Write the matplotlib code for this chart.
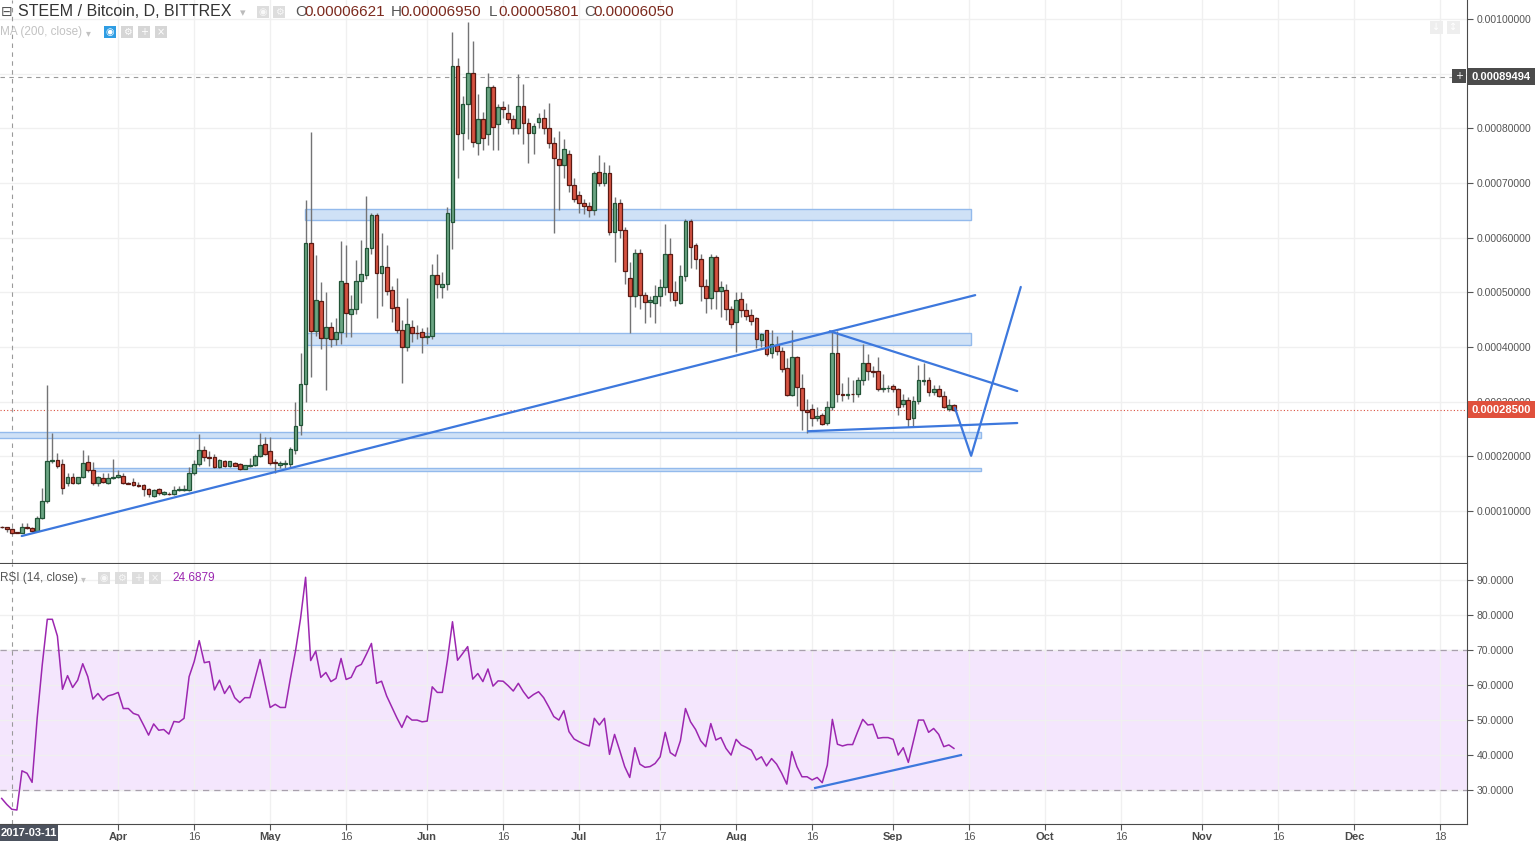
import matplotlib
matplotlib.use('Agg')
import matplotlib.pyplot as plt
import matplotlib.dates as mdates
from matplotlib.patches import Rectangle
import numpy as np

plt.rcParams['font.family'] = ['Liberation Sans', 'DejaVu Sans']

W, H = 1535, 841

# daily candles from 2017-03-09, prices in units of 1e-5 BTC
start = np.datetime64('2017-03-09')
opens = [7.1, 7.0, 6.62, 6.1, 6.0, 7.0, 6.9, 6.4, 8.7, 11.8,
         19.2, 19.3, 18.55, 15.1, 16.2, 15.1, 16.2, 18.9, 17.45, 15.1,
         16.0, 15.2, 16.0, 16.3, 16.35, 15.1, 15.25, 14.8, 14.7, 14.0,
         12.75, 14.0, 13.1, 13.2, 13.1, 13.8, 13.9, 13.9, 16.9, 18.55,
         21.1, 19.9, 19.9, 18.05, 19.1, 18.3, 18.7, 18.55, 17.75, 18.3,
         18.4, 20.07, 22.3, 20.9, 18.9, 18.5, 18.6, 18.55, 21.1, 25.7,
         33.2, 58.97, 43.0, 48.4, 41.6, 43.7, 41.4, 42.7, 51.65, 46.0,
         46.9, 52.0, 53.1, 58.06, 64.1, 53.5, 54.6, 50.4, 47.3, 43.06,
         40.1, 43.7, 42.6, 42.7, 41.9, 42.0, 53.1, 50.9, 51.5, 62.9,
         91.5, 79.1, 84.4, 90.1, 77.3, 81.8, 78.9, 87.5, 80.9, 84.0,
         82.9, 81.7, 80.0, 84.1, 81.0, 79.1, 81.1, 82.0, 80.0, 77.4,
         74.4, 73.4, 75.4, 69.6, 67.75, 66.3, 65.9, 65.1, 72.0, 70.1,
         71.8, 61.0, 66.3, 61.4, 52.6, 49.3, 57.3, 49.6, 48.3, 48.0,
         49.4, 51.0, 57.1, 50.1, 48.1, 53.0, 63.0, 58.7, 56.05, 51.2,
         48.9, 56.4, 50.2, 50.5, 46.9, 44.5, 48.8, 46.8, 45.8, 45.25,
         41.2, 43.06, 39.0, 40.3, 39.2, 36.1, 31.2, 38.1, 32.6, 28.4,
         28.6, 27.1, 27.5, 26.05, 29.0, 39.0, 31.5, 31.3, 31.5, 31.4,
         33.9, 37.0, 35.7, 35.7, 32.3, 32.5, 32.8, 32.3, 29.5, 30.3,
         27.1, 30.1, 33.8, 33.9, 31.7, 32.4, 31.1, 28.6, 29.4]
highs = [7.3, 7.1, 6.95, 6.2, 7.75, 7.75, 7.0, 9.0, 14.2, 33.0,
         24.2, 20.7, 19.5, 16.9, 16.9, 16.3, 21.2, 20.2, 18.9, 16.4,
         17.0, 16.9, 19.6, 17.5, 16.9, 15.4, 16.0, 15.3, 15.0, 14.3,
         14.0, 14.3, 13.7, 13.4, 14.6, 14.6, 14.7, 18.0, 19.4, 24.1,
         21.9, 21.0, 20.5, 19.5, 19.3, 19.2, 19.0, 18.8, 18.5, 19.7,
         20.5, 24.2, 23.5, 23.5, 19.5, 19.2, 19.4, 21.8, 30.0, 39.0,
         66.9, 79.3, 56.8, 51.9, 50.0, 44.5, 45.4, 59.4, 58.7, 49.5,
         55.9, 59.6, 67.6, 64.5, 64.5, 60.8, 58.7, 51.2, 52.6, 45.0,
         48.9, 45.0, 44.0, 43.5, 43.6, 55.2, 57.0, 53.8, 65.7, 97.7,
         92.9, 85.9, 99.5, 96.0, 86.3, 83.0, 90.1, 88.0, 84.5, 85.0,
         84.5, 82.5, 89.9, 88.1, 82.0, 81.0, 82.8, 83.5, 84.6, 78.5,
         79.5, 78.0, 76.0, 71.0, 68.5, 67.0, 66.5, 72.3, 75.1, 73.8,
         73.3, 67.5, 67.0, 62.0, 55.5, 58.0, 58.0, 50.0, 49.3, 51.4,
         52.5, 62.6, 59.9, 52.0, 55.0, 63.5, 63.5, 59.0, 57.0, 52.5,
         57.0, 56.8, 52.0, 51.5, 47.5, 50.0, 50.0, 48.0, 47.0, 45.5,
         42.5, 43.1, 43.1, 42.0, 40.0, 38.0, 43.1, 38.3, 35.0, 30.5,
         29.5, 29.0, 28.0, 30.2, 43.1, 42.9, 33.5, 34.5, 34.0, 34.5,
         40.6, 38.7, 36.5, 38.1, 35.0, 33.0, 33.2, 32.5, 31.5, 30.8,
         31.0, 36.7, 37.1, 34.5, 33.0, 33.0, 32.0, 30.5, 29.5]
lows = [6.9, 6.2, 5.80, 5.9, 5.9, 6.8, 6.2, 6.3, 8.5, 11.5,
        18.8, 17.8, 13.2, 14.6, 15.0, 14.9, 16.0, 17.2, 14.8, 14.6,
        15.2, 15.0, 15.8, 16.0, 15.0, 14.9, 14.6, 14.4, 12.8, 12.6,
        12.5, 13.0, 12.9, 13.0, 13.0, 13.6, 13.7, 13.7, 16.5, 18.3,
        19.1, 18.3, 17.9, 17.8, 18.0, 18.1, 18.2, 17.5, 17.6, 18.1,
        18.2, 19.8, 20.2, 18.5, 17.0, 17.8, 17.9, 18.0, 20.5, 24.0,
        30.0, 34.6, 42.0, 39.6, 32.1, 40.0, 40.4, 40.5, 41.9, 41.9,
        46.0, 48.0, 52.5, 57.0, 45.3, 47.5, 49.5, 44.5, 42.6, 33.4,
        39.3, 41.0, 41.5, 39.0, 40.5, 41.5, 49.0, 49.0, 50.5, 58.0,
        71.0, 76.0, 78.0, 76.6, 75.2, 76.0, 77.0, 76.0, 76.0, 82.0,
        81.0, 79.0, 79.0, 77.1, 73.6, 75.3, 80.0, 79.0, 76.5, 60.8,
        65.1, 71.0, 68.4, 66.5, 64.6, 64.3, 63.8, 64.1, 69.5, 69.5,
        60.5, 55.6, 60.0, 51.5, 42.6, 47.4, 47.0, 44.4, 45.5, 44.4,
        47.5, 49.6, 48.5, 47.5, 47.8, 52.0, 54.4, 54.3, 48.5, 46.2,
        47.0, 47.0, 45.5, 45.0, 43.5, 39.1, 45.5, 45.0, 44.0, 39.8,
        40.0, 38.4, 38.0, 38.5, 35.5, 31.0, 31.0, 29.3, 24.9, 24.2,
        25.5, 26.5, 25.8, 25.8, 28.5, 30.0, 30.2, 30.5, 30.0, 30.8,
        33.0, 34.0, 34.5, 32.0, 31.8, 31.8, 31.8, 27.5, 29.0, 25.3,
        25.6, 29.5, 33.0, 31.0, 31.2, 30.8, 28.8, 28.3, 28.3]
closes = [7.0, 6.7, 6.05, 6.0, 7.0, 6.9, 6.4, 8.7, 11.8, 19.2,
          19.3, 18.2, 14.3, 16.2, 15.1, 16.2, 18.7, 17.45, 15.2, 16.2,
          15.4, 16.0, 16.2, 16.5, 15.07, 15.0, 14.7, 14.6, 14.0, 13.06,
          13.8, 13.35, 13.4, 13.1, 13.9, 14.0, 14.1, 16.9, 18.55, 21.1,
          19.8, 19.7, 18.1, 19.3, 18.3, 19.1, 18.3, 17.75, 18.4, 18.45,
          20.07, 22.0, 20.4, 18.7, 18.85, 18.7, 18.7, 21.3, 25.55, 33.2,
          58.97, 43.0, 48.7, 41.6, 43.7, 41.4, 42.7, 52.0, 46.3, 46.9,
          52.0, 53.3, 58.06, 64.1, 53.5, 54.8, 50.2, 47.1, 43.06, 40.1,
          44.2, 42.5, 42.5, 41.8, 42.1, 53.1, 51.5, 51.5, 64.5, 91.5,
          78.9, 84.4, 90.1, 77.6, 81.8, 78.2, 87.5, 80.3, 84.0, 83.5,
          81.7, 80.0, 84.1, 81.0, 79.1, 80.5, 82.0, 80.0, 77.4, 74.5,
          73.4, 76.2, 69.6, 67.0, 66.3, 65.9, 65.1, 71.8, 70.1, 71.8,
          61.0, 66.3, 61.4, 54.0, 49.3, 57.3, 49.6, 48.3, 48.6, 49.3,
          50.9, 57.1, 50.1, 48.7, 53.0, 63.0, 58.35, 56.05, 51.2, 49.0,
          56.4, 50.2, 51.0, 46.9, 44.3, 48.6, 46.8, 45.7, 44.8, 41.4,
          42.3, 38.7, 40.5, 39.2, 35.9, 31.2, 38.1, 32.7, 28.4, 28.2,
          27.1, 27.3, 26.0, 29.0, 39.0, 31.5, 31.3, 31.5, 31.4, 33.9,
          37.0, 35.7, 35.5, 32.4, 32.5, 32.5, 32.3, 29.0, 30.3, 26.9,
          30.1, 33.9, 33.9, 31.7, 32.4, 31.1, 29.0, 29.4, 28.5]
rsi = [27.6, 25.9, 24.5, 24.3, 35.5, 34.8, 32.2, 50.5, 65.7, 78.8,
       78.8, 74.0, 58.8, 62.7, 59.3, 61.4, 66.1, 62.4, 56.0, 57.6,
       55.7, 56.9, 57.3, 57.9, 53.3, 53.3, 51.9, 51.4, 48.6, 45.7,
       48.9, 47.1, 47.3, 46.0, 49.6, 49.4, 50.5, 62.4, 66.7, 72.7,
       66.4, 66.7, 58.6, 61.4, 57.6, 59.8, 56.4, 55.0, 56.4, 56.4,
       61.9, 67.3, 60.5, 53.6, 54.5, 53.6, 53.6, 61.9, 69.7, 79.0,
       90.8, 67.0, 69.7, 62.2, 63.6, 61.0, 61.9, 67.6, 61.6, 62.2,
       65.2, 65.9, 68.8, 71.9, 60.5, 61.1, 56.9, 53.8, 50.7, 47.9,
       51.2, 50.0, 50.0, 49.5, 49.7, 59.5, 57.9, 57.9, 67.1, 78.1,
       67.1, 69.0, 71.0, 61.7, 63.3, 61.0, 64.6, 59.7, 61.2, 61.1,
       59.8, 58.3, 60.5, 58.1, 56.2, 57.3, 58.1, 56.4, 53.8, 51.0,
       50.0, 52.7, 46.7, 44.6, 43.8, 43.1, 42.6, 50.5, 48.6, 50.5,
       40.2, 45.9, 41.4, 36.7, 33.6, 42.1, 37.4, 36.5, 36.7, 37.6,
       39.5, 46.5, 40.7, 39.7, 44.1, 53.3, 49.5, 47.3, 44.1, 42.4,
       49.0, 44.3, 45.0, 41.9, 40.0, 44.5, 42.9, 42.2, 41.4, 38.6,
       39.5, 36.9, 39.0, 37.4, 34.8, 31.7, 41.0, 36.7, 33.8, 33.8,
       32.9, 33.6, 32.1, 37.1, 50.2, 43.1, 42.6, 43.0, 43.0, 46.7,
       50.2, 48.6, 48.8, 44.8, 45.0, 45.0, 44.5, 40.0, 42.1, 37.9,
       44.0, 50.0, 50.0, 46.5, 47.6, 45.9, 42.4, 42.9, 41.9]

tick_dates = ['2017-04-01', '2017-04-16', '2017-05-01', '2017-05-16', '2017-06-01',
              '2017-06-16', '2017-07-01', '2017-07-17', '2017-08-01', '2017-08-16',
              '2017-09-01', '2017-09-16', '2017-10-01', '2017-10-16', '2017-11-01',
              '2017-11-16', '2017-12-01', '2017-12-18']
tick_labels = ['Apr', '16', 'May', '16', 'Jun', '16', 'Jul', '17', 'Aug', '16',
               'Sep', '16', 'Oct', '16', 'Nov', '16', 'Dec', '18']
price_ticks = [0.0001, 0.0002, 0.0003, 0.0004, 0.0005, 0.0006, 0.0007, 0.0008, 0.0009, 0.001]
rsi_ticks = [30, 40, 50, 60, 70, 80, 90]

scale = 1e-5
o = np.array(opens) * scale
h = np.array(highs) * scale
l = np.array(lows) * scale
c = np.array(closes) * scale
n = len(c)
x0 = mdates.date2num(start)
x = x0 + np.arange(n)

fig = plt.figure(figsize=(W / 100, H / 100), dpi=100)
ax = fig.add_axes([0, 1 - 563 / H, 1467 / W, 563 / H])
ax2 = fig.add_axes([0, 1 - 824 / H, 1467 / W, 260 / H], sharex=ax)

grid_c = '#f0f0f0'
for a in (ax, ax2):
    a.set_facecolor('white')
    a.grid(True, color=grid_c, lw=1)
    a.set_axisbelow(True)
    a.yaxis.tick_right()
    a.tick_params(axis='y', length=4, color='#555555', labelsize=7.5,
                  labelcolor='#555555', pad=3)
    for s in ('top', 'left'):
        a.spines[s].set_visible(False)
    a.spines['right'].set_color('#4a4a4a')
    a.spines['bottom'].set_color('#4a4a4a')

# candles
up = c >= o
wick_c = '#737375'
ax.vlines(x, l, h, color=wick_c, lw=1, zorder=2)
ax.bar(x[up], (c - o)[up], bottom=o[up], width=0.74, color='#6ba583',
       edgecolor='#225437', lw=0.9, zorder=3)
ax.bar(x[~up], (o - c)[~up], bottom=c[~up], width=0.74, color='#d75442',
       edgecolor='#5b1a13', lw=0.9, zorder=3)

# drawn zones (days from start, price levels)
zones = [(59.9, 191.4, 63.2, 65.2), (60.1, 191.4, 40.4, 42.5),
         (-5, 193.3, 23.3, 24.5), (18.0, 193.3, 17.4, 17.8)]
for d0, d1, p0, p1 in zones:
    ax.add_patch(Rectangle((x0 + d0, p0 * scale), d1 - d0, (p1 - p0) * scale,
                           fc='#cfe1f6', ec='#93baec', lw=1, zorder=1.5))

blue = '#3d78dd'
trend_lines = [[(3.95, 5.43), (192.2, 49.5)],
               [(163.5, 42.9), (200.5, 31.95)],
               [(159.2, 24.6), (200.5, 26.1)],
               [(188.2, 28.85), (191.4, 20.1), (201.2, 51.0)]]
for pts in trend_lines:
    ax.plot([x0 + p[0] for p in pts], [p[1] * scale for p in pts],
            color=blue, lw=1.6, zorder=4, solid_capstyle='round')

# crosshair and last price
cross_x = mdates.date2num(np.datetime64('2017-03-11'))
cross_y = 0.00089494
last = 0.000285
ax.axhline(cross_y, color='#9a9a9a', lw=0.8, ls=(0, (4, 4)), zorder=1)
ax.axhline(last, color='#d9503f', lw=0.8, ls=(0, (1, 2)), zorder=1)
for a in (ax, ax2):
    a.axvline(cross_x, color='#9a9a9a', lw=0.8, ls=(0, (4, 4)), zorder=1)

ax.set_ylim(0.49e-5, 103.5e-5)
ax.set_yticks(price_ticks)
# the 0.0009 label sits under the crosshair price box
ax.set_yticklabels(['' if abs(v - 0.0009) < 1e-9 else '%.8f' % v for v in price_ticks])
ax.set_xlim(x0 - 0.336, x0 + 289.3)
ax.set_xticks([mdates.date2num(np.datetime64(d)) for d in tick_dates])
ax.tick_params(axis='x', length=0, labelbottom=False)

# RSI pane
ax2.axhspan(30, 70, color='#f4e6fd', zorder=0.5)
ax2.axhline(70, color='#a8a0ac', lw=0.9, ls=(0, (5, 4)), zorder=1)
ax2.axhline(30, color='#a8a0ac', lw=0.9, ls=(0, (5, 4)), zorder=1)
ax2.plot(x, rsi, color='#9c27b0', lw=1.1, zorder=3)
rsi_line = [(160.6, 30.6), (189.4, 40.0)]
ax2.plot([x0 + p[0] for p in rsi_line], [p[1] for p in rsi_line],
         color=blue, lw=1.6, zorder=4)
ax2.set_ylim(20.3, 94.6)
ax2.set_yticks(rsi_ticks)
ax2.set_yticklabels(['%.4f' % v for v in rsi_ticks])
ax2.tick_params(axis='x', length=4, color='#555555', labelsize=8,
                labelcolor='#555555', pad=1.5)
ax2.set_xticklabels(tick_labels)
for lab, t in zip(ax2.get_xticklabels(), tick_labels):
    if not t.isdigit():
        lab.set_fontweight('bold')
        lab.set_color('#4a4a4a')

# price labels on the right axis
for txt, yv, col in [('0.00089494', cross_y, '#4b4b4b'), ('0.00028500', last, '#e0503c')]:
    ax.annotate(txt, xy=(1.0, yv), xycoords=('axes fraction', 'data'),
                xytext=(3.5, 0), textcoords='offset points', ha='left', va='center',
                fontsize=8, color='white', fontweight='bold', annotation_clip=False,
                bbox=dict(boxstyle='square,pad=0.32', fc=col, ec='none'), zorder=10)


def ftext(px, py, s, **kw):
    fig.text(px / W, 1 - py / H, s, va='center', ha='left', **kw)


def icon(px, py, glyph, bg, fg='white', size=12):
    fig.patches.append(Rectangle((px / W, 1 - (py + size / 2) / H), size / W, size / H,
                                 transform=fig.transFigure, fc=bg, ec='none'))
    fig.text((px + size / 2) / W, 1 - py / H, glyph, ha='center', va='center',
             fontsize=7, color=fg, family=['DejaVu Sans'])


icon(1452, 76, '+', '#4b4b4b', size=14)

# header
ftext(1, 12, '\u229f', fontsize=10, color='#555555', family=['DejaVu Sans'])
ftext(18, 12, 'STEEM / Bitcoin, D, BITTREX', fontsize=11.5, color='#333333')
ftext(240, 13, '\u25be', fontsize=8, color='#bbbbbb', family=['DejaVu Sans'])
icon(257, 12, '\u25c9', '#dddddd', '#f8f8f8')
icon(273, 12, '\u2699', '#dddddd', '#f8f8f8')
ohlc = [('O', '0.00006621', 295), ('H', '0.00006950', 391),
        ('L', '0.00005801', 489), ('C', '0.00006050', 584)]
for k, v, px in ohlc:
    ftext(px, 12, k, fontsize=11, color='#555555')
    ftext(px + 9, 12, v, fontsize=11, color='#7c2a1e')

ftext(0, 32, 'MA (200, close)', fontsize=8.5, color='#c2c2c2')
ftext(86, 33, '\u25be', fontsize=7, color='#c2c2c2', family=['DejaVu Sans'])
icon(104, 32, '\u25c9', '#2f9de3')
icon(121, 32, '\u2699', '#d6d6d6')
icon(138, 32, '+', '#d6d6d6')
icon(155, 32, '\u00d7', '#d6d6d6')

icon(1430, 27, '\u2193', '#eeeeee', '#ffffff', size=13)
icon(1447, 27, '\u2195', '#eeeeee', '#ffffff', size=13)

ftext(0, 578, 'RSI (14, close)', fontsize=8.5, color='#555555')
ftext(81, 579, '\u25be', fontsize=7, color='#c2c2c2', family=['DejaVu Sans'])
icon(98, 578, '\u25c9', '#dddddd', '#f8f8f8')
icon(115, 578, '\u2699', '#dddddd', '#f8f8f8')
icon(132, 578, '+', '#dddddd', '#f8f8f8')
icon(149, 578, '\u00d7', '#dddddd', '#f8f8f8')
ftext(172, 578, '24.6879', fontsize=8.5, color='#9c27b0')

# crosshair date label
fig.patches.append(Rectangle((0, 0), 58 / W, 16 / H, transform=fig.transFigure,
                             fc='#4c525e', ec='none', zorder=10))
fig.text(29 / W, 8 / H, '2017-03-11', ha='center', va='center', fontsize=8,
         color='white', fontweight='bold', zorder=11)

fig.savefig('out.png', dpi=100)
